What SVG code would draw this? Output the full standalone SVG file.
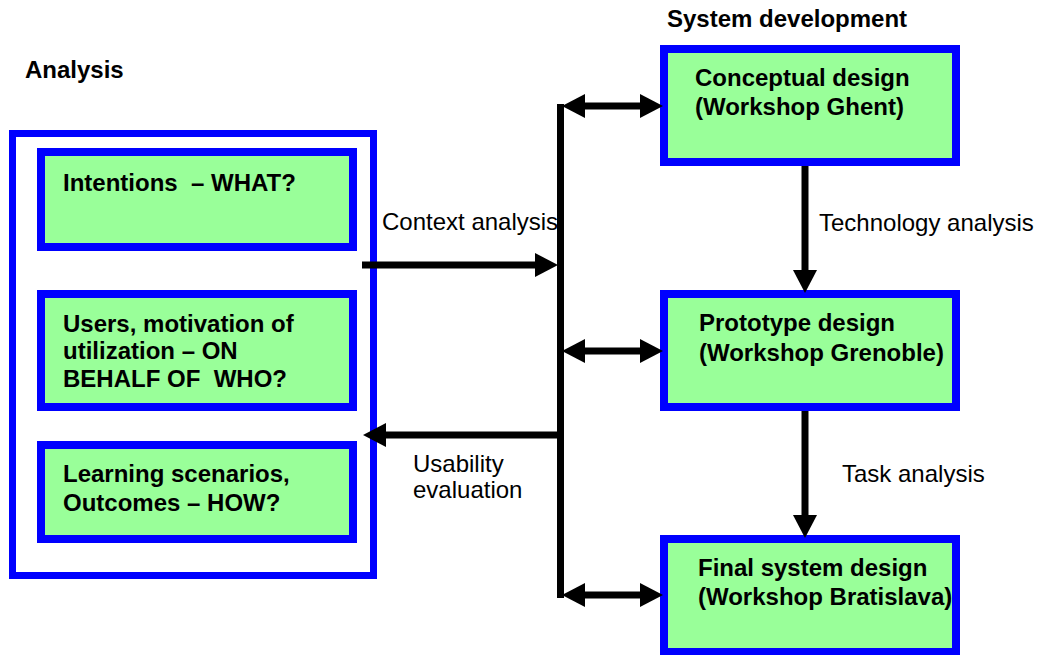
<svg xmlns="http://www.w3.org/2000/svg" width="1038" height="655" viewBox="0 0 1038 655">
  <style>
    text { font-family: "Liberation Sans", Arial, sans-serif; font-size: 24px; fill: #000; }
    .b { font-weight: bold; }
    .outer { fill: #fff; stroke: #0000ff; stroke-width: 7; }
    .box { fill: #99ff99; stroke: #0000ff; stroke-width: 8; }
    .wire { fill: none; stroke: #000; stroke-width: 7; }
  </style>
  <defs>
    <marker id="head" markerUnits="userSpaceOnUse" markerWidth="23" markerHeight="24" refX="0" refY="12" orient="auto-start-reverse">
      <path d="M0,0 L23,12 L0,24 Z" fill="#000"/>
    </marker>
  </defs>

  <rect width="1038" height="655" fill="#fff"/>

  <!-- section titles -->
  <text class="b" x="25" y="78">Analysis</text>
  <text class="b" x="667" y="27">System development</text>

  <!-- analysis frame -->
  <g id="analysis">
    <rect class="outer" x="12.5" y="133.5" width="361" height="442"/>
  </g>

  <g id="intentions">
    <rect class="box" x="41" y="152" width="312" height="95"/>
    <text class="b" x="63" y="191" xml:space="preserve">Intentions  – WHAT?</text>
  </g>

  <g id="users">
    <rect class="box" x="41" y="294" width="312" height="113"/>
    <text class="b" x="63" y="332">Users, motivation of</text>
    <text class="b" x="63" y="359">utilization – ON</text>
    <text class="b" x="63" y="387" xml:space="preserve">BEHALF OF  WHO?</text>
  </g>

  <g id="scenarios">
    <rect class="box" x="41" y="445" width="312" height="94"/>
    <text class="b" x="63" y="482">Learning scenarios,</text>
    <text class="b" x="63" y="511">Outcomes – HOW?</text>
  </g>

  <!-- system development stages -->
  <g id="conceptual">
    <rect class="box" x="664" y="49" width="292" height="113"/>
    <text class="b" x="695" y="86">Conceptual design</text>
    <text class="b" x="695" y="115">(Workshop Ghent)</text>
  </g>

  <g id="prototype">
    <rect class="box" x="664" y="294" width="292" height="113"/>
    <text class="b" x="699" y="331">Prototype design</text>
    <text class="b" x="699" y="361">(Workshop Grenoble)</text>
  </g>

  <g id="final">
    <rect class="box" x="664" y="539" width="292" height="113"/>
    <text class="b" x="698" y="576">Final system design</text>
    <text class="b" x="698" y="605">(Workshop Bratislava)</text>
  </g>

  <!-- connectors -->
  <g id="connectors">
    <!-- vertical bus -->
    <path class="wire" d="M560.5,104 V598"/>
    <!-- analysis to bus -->
    <path class="wire" d="M362,265 H535" marker-end="url(#head)"/>
    <!-- bus back to analysis -->
    <path class="wire" d="M560,435 H386" marker-end="url(#head)"/>
    <!-- bus to each stage -->
    <path class="wire" d="M585,106 H640" marker-start="url(#head)" marker-end="url(#head)"/>
    <path class="wire" d="M585,351 H640" marker-start="url(#head)" marker-end="url(#head)"/>
    <path class="wire" d="M585,595 H640" marker-start="url(#head)" marker-end="url(#head)"/>
    <!-- stage to stage -->
    <path class="wire" d="M805,166 V270" marker-end="url(#head)"/>
    <path class="wire" d="M805,411 V515" marker-end="url(#head)"/>
  </g>

  <!-- connector labels -->
  <text x="382" y="230">Context analysis</text>
  <text x="819" y="231">Technology analysis</text>
  <text x="413" y="472">Usability</text>
  <text x="413" y="498">evaluation</text>
  <text x="842" y="482">Task analysis</text>
</svg>
